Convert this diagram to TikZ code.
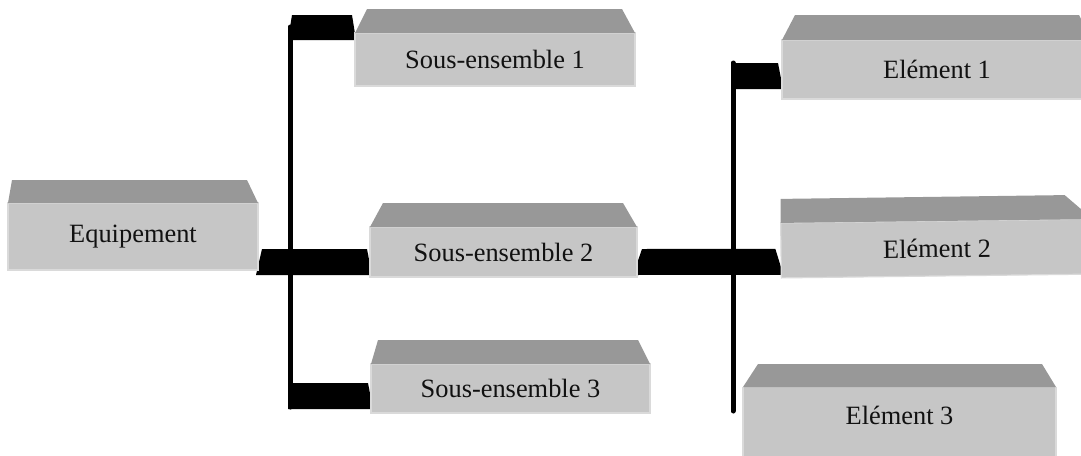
\documentclass[tikz,border=0pt]{standalone}
\usepackage{fontspec}
\setmainfont{Liberation Serif}
\usetikzlibrary{calc,backgrounds}
\definecolor{frontc}{HTML}{C6C6C6}
\definecolor{topc}{HTML}{989898}
\definecolor{edgec}{HTML}{DADADA}
\definecolor{txtc}{HTML}{111111}
\newcommand\mktop[4]{%
  \fill[topc] (#1.north west) -- ++(#2,-#4) -- ($(#1.north east)+(-#3,-#4)$) -- (#1.north east) -- cycle;}
\tikzset{
  front/.style={rectangle, fill=frontc, draw=edgec, line width=0.6pt, inner sep=0pt, outer sep=0pt,
    text=txtc, font=\fontsize{13.2}{15}\selectfont},
  conn/.style={fill=black},
  bus/.style={draw=black, line width=2.5pt, line cap=round}
}
\begin{document}
\begin{tikzpicture}[x=0.5pt,y=-0.5pt]
\useasboundingbox (0,0) rectangle (1081,455);
\clip (0,0) rectangle (1081,455);
% boxes
\node[front, minimum width=125pt, minimum height=33.5pt] (eq) at (133,236.5) {Equipement};
\node[front, minimum width=140pt, minimum height=26.5pt] (se1) at (495,59.5) {Sous-ensemble 1};
\node[front, minimum width=133.5pt, minimum height=25pt] (se2) at (503.5,252) {Sous-ensemble 2};
\node[front, minimum width=139.5pt, minimum height=24.5pt] (se3) at (510.5,388.5) {Sous-ensemble 3};
\node[front, minimum width=155pt, minimum height=29.5pt] (el1) at (937,69.5) {Elément 1};
\node[front, minimum width=156pt, minimum height=27.5pt, rotate=0.7] (el2) at (937,248.5) {Elément 2};
\fill[frontc] (743,440) rectangle (1056,470);
\node[front, draw=none, minimum width=156.5pt, minimum height=28pt] (el3) at (899.5,415) {Elément 3};
\draw[edgec, line width=0.6pt] (743,387) -- (743,470) (1056,387) -- (1056,470);
% top faces
\mktop{eq}{4}{11}{23}
\mktop{se1}{12}{13}{24}
\mktop{se2}{13}{14}{24}
\mktop{se3}{7}{12}{24}
\mktop{el1}{13}{13}{25}
\mktop{el2}{0}{28}{24}
\mktop{el3}{15}{14}{23}
% connectors
\coordinate (aT) at (290,27);
\coordinate (aB) at (290,407);
\coordinate (bT) at (733,63);
\coordinate (bB) at (733,411);
\begin{scope}[on background layer]
\draw[bus] (aT) -- (aB);
\draw[bus] (bT) -- (bB);
\fill[conn] ($(se1.north west)+(1,7)$) -- ++(-4,-25) -- ($(aT)+(2,-12)$) -- ($(aT)+(-2,13)$) -- cycle;
\fill[conn] ($(eq.south east)+(-2,5)$) -- ($(se2.south west)+(2,-2)$) -- ++(-5,-26) -- ($(eq.south east)+(4,-21)$) -- cycle;
\fill[conn] ($(aB)+(-2,2)$) -- ($(se3.south west)+(2,-4)$) -- ++(-5,-26) -- ($(aB)+(2,-24)$) -- cycle;
\fill[conn] ($(bT)+(2,26)$) -- ($(el1.south west)+(1,-10)$) -- ++(-5,-26) -- ($(bT)+(2,0)$) -- cycle;
\fill[conn] ($(se2.south east)+(-4,-2)$) -- ($(el2.south west)+(2,-3)$) -- ++(-8,-26) -- ($(se2.south east)+(5,-28)$) -- cycle;
\end{scope}
\end{tikzpicture}
\end{document}
